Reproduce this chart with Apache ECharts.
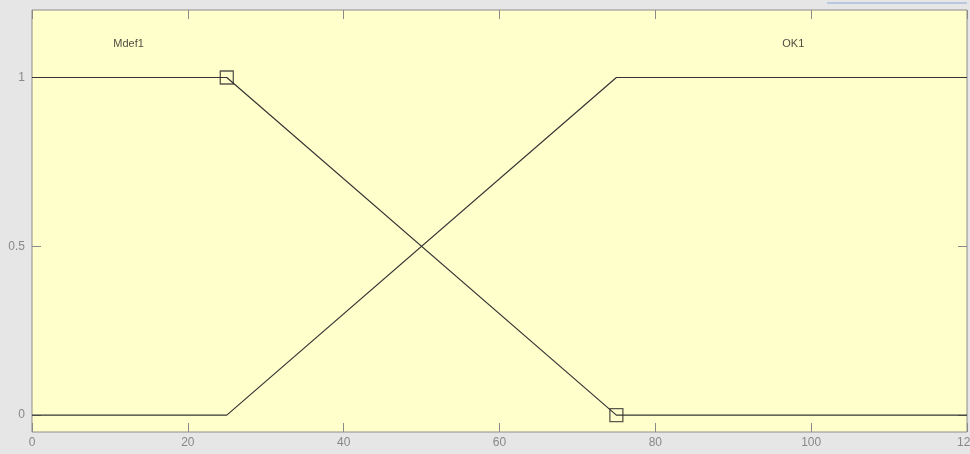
<!DOCTYPE html>
<html>
<head>
<meta charset="utf-8">
<script src="https://cdn.jsdelivr.net/npm/echarts@6/dist/echarts.min.js"></script>
<style>
  html, body { margin: 0; padding: 0; background: #e6e6e6; }
  #chart { width: 970px; height: 454px; }
</style>
</head>
<body>
<div id="chart"></div>
<script>
// Membership functions over the input range
const xTicks = [0, 20, 40, 60, 80, 100, 120];
const yTicks = [0, 0.5, 1];
const mdef1Points = [[0, 1], [25, 1], [75, 0], [120, 0]];
const ok1Points = [[0, 0], [25, 0], [75, 1], [120, 1]];
const selectedPoints = [[25, 1], [75, 0]];
const mfNames = ['Mdef1', 'OK1'];
const mfLabelPos = [[12.4, 1.1], [97.7, 1.1]];

const lineColor = '#353535';
const tickColor = '#8a8a8a';
const labelColor = '#888888';
const chart = echarts.init(document.getElementById('chart'));

const xAxisBase = {
  type: 'value', min: 0, max: 120, interval: 20, gridIndex: 0,
  axisLine: { show: false, onZero: false },
  axisTick: { show: true, inside: true, length: 9, customValues: xTicks, lineStyle: { color: tickColor } },
  splitLine: { show: false }
};
const yAxisBase = {
  type: 'value', min: -0.05, max: 1.2, gridIndex: 0,
  axisLine: { show: false, onZero: false },
  axisTick: { show: true, inside: true, length: 9, customValues: yTicks, lineStyle: { color: tickColor } },
  splitLine: { show: false }
};

chart.setOption({
  animation: false,
  backgroundColor: '#e6e6e6',
  grid: {
    left: 32, right: 3, top: 10, bottom: 22,
    outerBoundsMode: 'none', containLabel: false,
    show: true, backgroundColor: '#ffffcc', borderColor: '#8c8c8c', borderWidth: 1
  },
  graphic: [{
    type: 'line', shape: { x1: 827, y1: 3, x2: 967, y2: 3 },
    style: { stroke: '#b9c8de', lineWidth: 2 }, silent: true
  }],
  xAxis: [
    Object.assign({}, xAxisBase, {
      position: 'bottom',
      axisLabel: {
        show: true, customValues: xTicks, color: labelColor, fontFamily: 'Liberation Sans, Arial', fontSize: 12,
        margin: 5, showMaxLabel: true, hideOverlap: false
      }
    }),
    Object.assign({}, xAxisBase, { position: 'top', axisLabel: { show: false } })
  ],
  yAxis: [
    Object.assign({}, yAxisBase, {
      position: 'left',
      axisLabel: {
        show: true, customValues: yTicks, color: labelColor,
        fontFamily: 'Liberation Sans, Arial', fontSize: 12, margin: 7
      }
    }),
    Object.assign({}, yAxisBase, { position: 'right', axisLabel: { show: false } })
  ],
  series: [
    {
      type: 'line', name: mfNames[0], data: mdef1Points, symbol: 'none',
      lineStyle: { color: lineColor, width: 1.2 }, silent: true
    },
    {
      type: 'line', name: mfNames[1], data: ok1Points, symbol: 'none',
      lineStyle: { color: lineColor, width: 1.2 }, silent: true
    },
    {
      type: 'scatter', data: selectedPoints, symbol: 'rect', symbolSize: 13,
      itemStyle: { color: 'rgba(0,0,0,0)', borderColor: '#2e2e2e', borderWidth: 1.3 },
      z: 5, silent: true
    },
    {
      type: 'scatter', symbolSize: 0, silent: true,
      data: mfLabelPos.map((p, i) => ({ value: p, name: mfNames[i] })),
      label: {
        show: true, position: 'inside', formatter: '{b}',
        color: '#1a1a1a', fontFamily: 'Liberation Sans, Arial', fontSize: 11
      }
    },
    // keeps the top and right axes bound to the same grid
    { type: 'line', xAxisIndex: 1, yAxisIndex: 1, data: [], silent: true }
  ]
});
</script>
</body>
</html>
